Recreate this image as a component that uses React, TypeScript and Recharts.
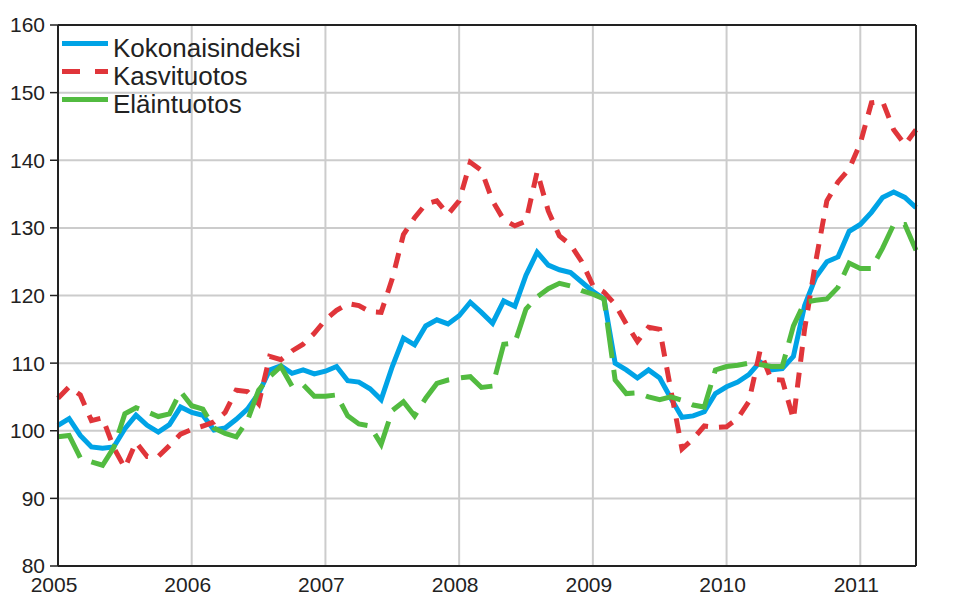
import { LineChart, Line, XAxis, YAxis, CartesianGrid, Legend, ReferenceLine } from "recharts";

const YEARS = ["2005", "2006", "2007", "2008", "2009", "2010", "2011"];
const Y_TICKS = [80, 90, 100, 110, 120, 130, 140, 150, 160];

// monthly index values, Jan 2005 .. Jun 2011
const KOKONAISINDEKSI = [
  100.8, 101.8, 99.3, 97.6, 97.4, 97.6, 100.3, 102.3, 100.8, 99.8, 100.9, 103.5,
  102.7, 102.3, 100.1, 100.4, 101.7, 103.2, 105.5, 109.0, 109.6, 108.5, 109.0, 108.4,
  108.8, 109.5, 107.4, 107.2, 106.2, 104.6, 109.5, 113.7, 112.7, 115.5, 116.4, 115.8,
  117.0, 119.0, 117.5, 115.9, 119.2, 118.4, 123.0, 126.4, 124.5, 123.8, 123.4, 122.0,
  120.6, 119.5, 110.0, 109.0, 107.8, 109.0, 107.8, 104.8, 102.0, 102.2, 102.8, 105.5,
  106.5, 107.2, 108.3, 110.2, 109.0, 109.2, 111.0, 118.5, 122.7, 125.0, 125.7, 129.5,
  130.5, 132.3, 134.5, 135.3, 134.5, 133.0,
];
const KASVITUOTOS = [
  104.8, 106.5, 105.3, 101.5, 101.9, 97.5, 94.5, 98.3, 96.2, 96.2, 97.8, 99.5,
  100.2, 100.7, 101.3, 102.7, 106.0, 105.8, 104.0, 111.0, 110.5, 111.8, 112.8, 114.4,
  116.4, 117.8, 118.8, 118.5, 117.6, 117.5, 122.5, 129.0, 131.5, 133.5, 134.0, 132.0,
  134.0, 139.7, 138.5, 134.0, 131.2, 130.3, 131.0, 138.3, 132.5, 128.8, 127.5, 125.0,
  121.5, 120.5, 118.7, 115.8, 113.2, 115.3, 115.0, 106.0, 97.3, 98.8, 100.7, 100.5,
  100.6, 101.8, 104.3, 111.8, 107.6, 107.5, 101.7, 115.0, 125.0, 134.0, 136.8, 138.7,
  142.5, 148.5, 148.7, 144.5, 142.3, 144.5,
];
const ELAINTUOTOS = [
  99.1, 99.3, 96.0, 95.4, 94.9, 97.5, 102.5, 103.4, 102.8, 102.1, 102.5, 105.8,
  103.7, 103.2, 100.4, 99.6, 99.1, 101.5, 106.0, 108.0, 109.5, 106.6, 106.8, 105.1,
  105.1, 105.3, 102.2, 101.0, 100.7, 98.0, 103.0, 104.3, 102.2, 104.8, 107.0, 107.5,
  107.8, 108.0, 106.4, 106.6, 112.8, 113.0, 118.0, 119.8, 121.0, 121.8, 121.4, 120.7,
  120.2, 119.5, 107.5, 105.5, 105.6, 105.0, 104.6, 105.0, 104.5, 103.8, 103.5, 109.0,
  109.5, 109.7, 110.0, 109.8, 109.5, 109.5, 115.5, 119.0, 119.3, 119.5, 121.2, 124.8,
  124.0, 124.0, 127.0, 130.5, 130.5, 126.7,
];

const MONTHS = KOKONAISINDEKSI.map(
  (_, i) => `${YEARS[Math.floor(i / 12)]}M${String((i % 12) + 1).padStart(2, "0")}`
);
const X_TICKS = YEARS.map((_, k) => k * 12);

const data = MONTHS.map((month, i) => ({
  i,
  month,
  kokonais: KOKONAISINDEKSI[i],
  kasvi: KASVITUOTOS[i],
  elain: ELAINTUOTOS[i],
}));

const FONT = "'Liberation Sans', Arial, sans-serif";
const BLUE = "#00a3e6";
const RED = "#e0353a";
const GREEN = "#52bb40";
const AXIS = "#222222";

const SERIES = [
  { name: "Kokonaisindeksi", color: BLUE, dash: undefined as string | undefined },
  { name: "Kasvituotos", color: RED, dash: "18 15" },
  { name: "Eläintuotos", color: GREEN, dash: undefined as string | undefined },
];

function LegendBox() {
  return (
    <div style={{ fontFamily: FONT, fontSize: 26, color: "#222", lineHeight: "28px" }}>
      {SERIES.map((s) => (
        <div key={s.name} style={{ display: "flex", alignItems: "center", height: 28 }}>
          <svg width={46} height={28} style={{ marginRight: 5 }}>
            <line x1={0} y1={9.5} x2={46} y2={9.5} stroke={s.color} strokeWidth={5} strokeDasharray={s.dash} />
          </svg>
          <span>{s.name}</span>
        </div>
      ))}
    </div>
  );
}

const tickStyle = { fontSize: 21, fill: "#222", fontFamily: FONT };

export default function App() {
  return (
    <div style={{ position: "absolute", left: 0, top: 0, background: "#fff" }}>
      <LineChart width={968} height={594} data={data} margin={{ top: 25, right: 0, bottom: 0, left: 0 }}>
        <CartesianGrid yAxisId="left" stroke="#cccccc" strokeWidth={2} />
        <XAxis
          dataKey="i"
          type="number"
          domain={[0, 77]}
          ticks={X_TICKS}
          tickFormatter={(v: number) => YEARS[Math.round(v / 12)]}
          height={28}
          tickSize={0}
          tickMargin={11}
          dx={-4}
          tick={tickStyle}
          axisLine={{ stroke: AXIS, strokeWidth: 2 }}
          interval={0}
        />
        <YAxis
          yAxisId="left"
          orientation="left"
          domain={[80, 160]}
          ticks={Y_TICKS}
          width={58}
          tickSize={8}
          tickMargin={5}
          tick={tickStyle}
          tickLine={{ stroke: AXIS, strokeWidth: 1.5 }}
          axisLine={{ stroke: AXIS, strokeWidth: 2 }}
          interval={0}
        />
        <YAxis
          yAxisId="right"
          orientation="right"
          domain={[80, 160]}
          ticks={Y_TICKS}
          width={52}
          tickSize={8}
          tickMargin={4}
          tick={tickStyle}
          tickLine={{ stroke: AXIS, strokeWidth: 1.5 }}
          axisLine={{ stroke: AXIS, strokeWidth: 2 }}
          interval={0}
        />
        <ReferenceLine yAxisId="left" y={160} stroke={AXIS} strokeWidth={2} />
        <Legend
          content={() => <LegendBox />}
          layout="vertical"
          align="center"
          verticalAlign="middle"
          wrapperStyle={{ top: 34, left: 62, width: "auto", height: "auto" }}
        />
        <Line
          yAxisId="left"
          type="linear"
          dataKey="kokonais"
          name="Kokonaisindeksi"
          stroke={BLUE}
          strokeWidth={5}
          dot={false}
          isAnimationActive={false}
        />
        <Line
          yAxisId="left"
          type="linear"
          dataKey="kasvi"
          name="Kasvituotos"
          stroke={RED}
          strokeWidth={5}
          strokeDasharray="15 11"
          dot={false}
          isAnimationActive={false}
        />
        <Line
          yAxisId="left"
          type="linear"
          dataKey="elain"
          name="Eläintuotos"
          stroke={GREEN}
          strokeWidth={5}
          strokeDasharray="36 12"
          dot={false}
          isAnimationActive={false}
        />
      </LineChart>
    </div>
  );
}
